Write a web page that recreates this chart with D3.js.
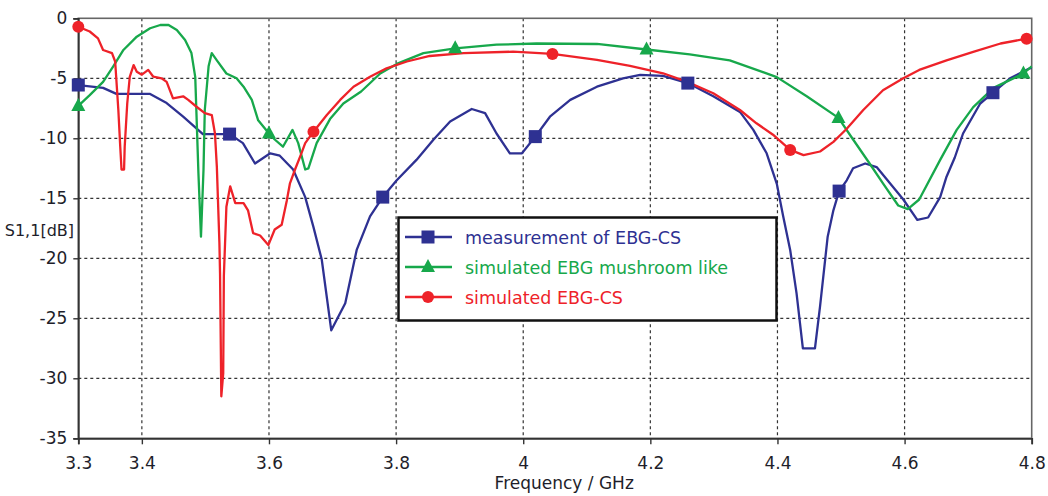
<!DOCTYPE html>
<html>
<head>
<meta charset="utf-8">
<script src="https://cdn.jsdelivr.net/npm/d3@7"></script>
<style>
  body { margin: 0; background: #fff; }
  svg { display: block; font-family: "DejaVu Sans", Verdana, sans-serif; }
  .grid-line { stroke: #333; stroke-width: 1.2; stroke-dasharray: 3,3; }
  .tick-label { font-size: 17px; fill: #1e1e2a; }
</style>
</head>
<body>
<svg width="1048" height="496"></svg>
<script>
// measurement of EBG-CS  [GHz, dB]
const measured = [
  [3.300,-5.56],[3.339,-5.8],[3.360,-6.3],[3.413,-6.3],[3.439,-7.06],[3.465,-8.2],[3.496,-9.65],
  [3.518,-9.65],[3.538,-9.65],[3.559,-10.4],[3.578,-12.1],[3.602,-11.25],[3.617,-11.45],[3.638,-12.6],
  [3.657,-14.9],[3.670,-17.4],[3.683,-20.1],[3.698,-26.0],[3.720,-23.75],[3.738,-19.3],[3.759,-16.5],
  [3.779,-14.9],[3.801,-13.5],[3.832,-11.8],[3.859,-10.1],[3.885,-8.6],[3.919,-7.56],[3.940,-7.9],
  [3.958,-9.6],[3.979,-11.25],[3.998,-11.25],[4.019,-9.86],[4.042,-8.2],[4.074,-6.8],[4.116,-5.7],
  [4.157,-5.0],[4.184,-4.72],[4.220,-4.8],[4.259,-5.4],[4.299,-6.5],[4.341,-7.8],[4.362,-9.3],
  [4.383,-11.25],[4.399,-13.8],[4.409,-16.5],[4.420,-19.3],[4.430,-22.9],[4.440,-27.5],[4.459,-27.5],
  [4.467,-24.0],[4.479,-18.2],[4.488,-16.0],[4.497,-14.4],[4.509,-13.5],[4.519,-12.5],[4.538,-12.1],
  [4.556,-12.4],[4.577,-13.75],[4.598,-15.1],[4.620,-16.8],[4.637,-16.6],[4.656,-14.9],[4.666,-13.2],
  [4.679,-11.6],[4.692,-9.6],[4.719,-7.1],[4.739,-6.2],[4.766,-5.0],[4.797,-4.17],[4.800,-4.1]
];
const measuredMarks = [[3.300,-5.56],[3.538,-9.65],[3.779,-14.9],[4.019,-9.86],[4.259,-5.4],[4.497,-14.4],[4.739,-6.2]];

// simulated EBG mushroom like
const mushroom = [
  [3.300,-7.3],[3.318,-6.4],[3.339,-5.3],[3.355,-4.0],[3.371,-2.64],[3.392,-1.53],[3.413,-0.83],
  [3.429,-0.56],[3.442,-0.56],[3.455,-0.98],[3.468,-1.8],[3.478,-2.9],[3.484,-4.9],[3.489,-12.9],
  [3.493,-18.2],[3.497,-12.6],[3.499,-7.64],[3.505,-4.0],[3.510,-2.9],[3.518,-3.5],[3.533,-4.6],
  [3.549,-5.0],[3.560,-5.7],[3.573,-6.8],[3.583,-8.5],[3.600,-9.6],[3.609,-10.1],[3.622,-10.7],
  [3.637,-9.3],[3.646,-10.4],[3.657,-12.6],[3.662,-12.5],[3.675,-10.4],[3.696,-8.4],[3.717,-7.1],
  [3.745,-6.1],[3.775,-4.6],[3.801,-3.8],[3.843,-2.9],[3.893,-2.5],[3.958,-2.2],[4.021,-2.1],
  [4.116,-2.14],[4.194,-2.6],[4.262,-3.0],[4.325,-3.5],[4.399,-4.9],[4.446,-6.5],[4.496,-8.3],
  [4.519,-10.1],[4.545,-12.1],[4.566,-13.75],[4.590,-15.6],[4.605,-15.9],[4.623,-15.1],[4.656,-11.8],
  [4.682,-9.3],[4.708,-7.4],[4.740,-5.8],[4.787,-4.6],[4.800,-4.0]
];
const mushroomMarks = [[3.300,-7.3],[3.600,-9.6],[3.893,-2.5],[4.194,-2.6],[4.496,-8.3],[4.787,-4.6]];

// simulated EBG-CS
const simulated = [
  [3.300,-0.7],[3.318,-1.1],[3.331,-1.67],[3.339,-2.64],[3.353,-2.9],[3.358,-3.6],[3.363,-7.64],
  [3.366,-10.7],[3.368,-12.6],[3.372,-12.6],[3.373,-10.7],[3.377,-7.1],[3.381,-4.87],[3.387,-3.9],
  [3.392,-4.45],[3.400,-4.7],[3.410,-4.3],[3.418,-4.87],[3.431,-5.0],[3.439,-5.3],[3.449,-6.67],
  [3.465,-6.5],[3.473,-6.8],[3.486,-7.37],[3.499,-7.9],[3.510,-8.06],[3.515,-9.6],[3.518,-12.4],
  [3.522,-18.7],[3.523,-21.25],[3.525,-31.5],[3.528,-29.6],[3.529,-21.5],[3.533,-15.7],[3.539,-14.0],
  [3.547,-15.4],[3.560,-15.4],[3.567,-16.0],[3.575,-17.9],[3.586,-18.1],[3.599,-18.9],[3.609,-17.6],
  [3.620,-17.2],[3.628,-15.2],[3.633,-13.75],[3.641,-12.6],[3.651,-11.25],[3.657,-10.4],[3.670,-9.45],
  [3.691,-8.06],[3.712,-6.8],[3.733,-5.7],[3.759,-4.87],[3.785,-4.17],[3.817,-3.6],[3.853,-3.14],
  [3.906,-2.9],[3.984,-2.78],[4.046,-2.97],[4.116,-3.47],[4.168,-3.97],[4.220,-4.58],[4.257,-5.28],
  [4.299,-6.25],[4.341,-7.64],[4.367,-8.75],[4.393,-9.7],[4.420,-10.97],[4.441,-11.4],[4.467,-11.1],
  [4.488,-10.3],[4.509,-9.2],[4.535,-7.64],[4.566,-6.0],[4.598,-5.0],[4.623,-4.3],[4.666,-3.5],
  [4.708,-2.8],[4.751,-2.1],[4.792,-1.7],[4.800,-1.65]
];
const simulatedMarks = [[3.300,-0.7],[3.670,-9.45],[4.046,-2.97],[4.420,-10.97],[4.792,-1.7]];

const xTicks = [3.3, 3.4, 3.6, 3.8, 4.0, 4.2, 4.4, 4.6, 4.8];
const xGrid = [3.4, 3.6, 3.8, 4.0, 4.2, 4.4, 4.6];
const yTicks = [0, -5, -10, -15, -20, -25, -30, -35];
const yGrid = [-5, -10, -15, -20, -25, -30];

const series = [
  { name: "measurement of EBG-CS", data: measured, marks: measuredMarks, color: "#2e3192", marker: "square" },
  { name: "simulated EBG mushroom like", data: mushroom, marks: mushroomMarks, color: "#17a84b", marker: "triangle" },
  { name: "simulated EBG-CS", data: simulated, marks: simulatedMarks, color: "#ee2229", marker: "circle" }
];

const svg = d3.select("svg");
const plotL = 78.3, plotR = 1031.7, plotT = 18.3, plotB = 438.3;

const x = d3.scaleLinear().domain([3.3, 4.8]).range([plotL, plotR]);
const y = d3.scaleLinear().domain([0, -35]).range([plotT, plotB]);

// grid
svg.append("g").selectAll("line")
  .data(xGrid).enter().append("line")
  .attr("class", "grid-line")
  .attr("x1", d => x(d)).attr("x2", d => x(d))
  .attr("y1", plotT).attr("y2", plotB);
svg.append("g").selectAll("line")
  .data(yGrid).enter().append("line")
  .attr("class", "grid-line")
  .attr("x1", plotL).attr("x2", plotR)
  .attr("y1", d => y(d)).attr("y2", d => y(d));

// frame: top/right thin grey, left/bottom axes
svg.append("rect")
  .attr("x", plotL).attr("y", plotT)
  .attr("width", plotR - plotL).attr("height", plotB - plotT)
  .attr("fill", "none").attr("stroke", "#666").attr("stroke-width", 1.6);

const axisX = d3.axisBottom(x).tickValues(xTicks).tickSize(6).tickFormat(d3.format("~g"));
const gx = svg.append("g").attr("transform", `translate(0,${plotB})`).call(axisX);
gx.select(".domain").attr("stroke", "#333").attr("stroke-width", 1.8);
gx.selectAll(".tick line").attr("stroke", "#333").attr("stroke-width", 1.4);
gx.selectAll(".tick text").attr("class", "tick-label").attr("dy", "1.25em");

const axisY = d3.axisLeft(y).tickValues(yTicks).tickSize(5).tickPadding(6).tickFormat(d3.format("~g"));
const gy = svg.append("g").attr("transform", `translate(${plotL},0)`).call(axisY);
gy.select(".domain").attr("stroke", "#333").attr("stroke-width", 1.8);
gy.selectAll(".tick line").attr("stroke", "#333").attr("stroke-width", 1.4);
gy.selectAll(".tick text").attr("class", "tick-label").text(d => d === 0 ? "0" : "-" + Math.abs(d));
svg.selectAll("g").attr("font-family", null).attr("font-size", null);

// axis titles
svg.append("text")
  .attr("x", x(4.0) + 41).attr("y", 489)
  .attr("text-anchor", "middle")
  .attr("class", "tick-label")
  .text("Frequency / GHz");
svg.append("text")
  .attr("x", 74).attr("y", 236)
  .attr("text-anchor", "end")
  .attr("class", "tick-label")
  .style("font-size", "16px")
  .text("S1,1[dB]");

// curves
const line = d3.line().x(d => x(d[0])).y(d => y(d[1]));
series.forEach(s => {
  svg.append("path")
    .datum(s.data)
    .attr("d", line)
    .attr("fill", "none")
    .attr("stroke", s.color)
    .attr("stroke-width", 2.3)
    .attr("stroke-linejoin", "round");
});

function drawMarker(g, type, cx, cy, color) {
  if (type === "square") {
    g.append("rect").attr("x", cx - 6.5).attr("y", cy - 6.5).attr("width", 13).attr("height", 13).attr("fill", color);
  } else if (type === "triangle") {
    g.append("path").attr("d", `M${cx},${cy - 8}L${cx + 7},${cy + 5}L${cx - 7},${cy + 5}Z`).attr("fill", color);
  } else {
    g.append("circle").attr("cx", cx).attr("cy", cy).attr("r", 6).attr("fill", color);
  }
}

series.forEach(s => {
  const g = svg.append("g");
  s.marks.forEach(d => drawMarker(g, s.marker, x(d[0]), y(d[1]), s.color));
});

// legend
const lg = svg.append("g");
lg.append("rect")
  .attr("x", 398.5).attr("y", 217.5).attr("width", 378).attr("height", 103)
  .attr("fill", "#fff").attr("stroke", "#111").attr("stroke-width", 2.5);
series.forEach((s, i) => {
  const ly = 237 + i * 30;
  lg.append("line").attr("x1", 405).attr("x2", 452).attr("y1", ly).attr("y2", ly)
    .attr("stroke", s.color).attr("stroke-width", 2.3);
  drawMarker(lg, s.marker, 428, ly, s.color);
  lg.append("text").attr("x", 465).attr("y", ly + 6.5)
    .attr("fill", s.color).style("font-size", "17.5px")
    .text(s.name);
});
</script>
</body>
</html>
